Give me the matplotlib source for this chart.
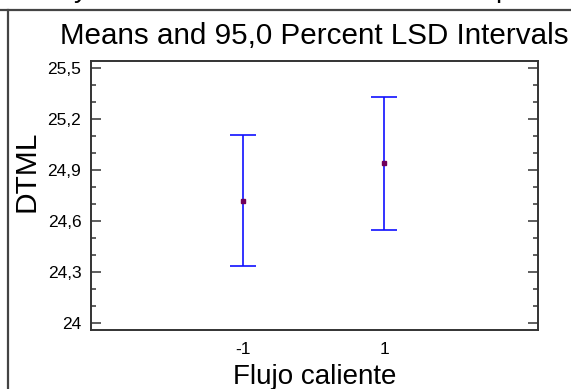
import matplotlib.pyplot as plt
import numpy as np
from matplotlib.lines import Line2D

plt.rcParams["font.family"] = ["Liberation Sans", "DejaVu Sans"]

# data
levels = ["-1", "1"]
means = [24.717, 24.941]
lower = [24.334, 24.546]
upper = [25.105, 25.329]

yticks = [24.0, 24.3, 24.6, 24.9, 25.2, 25.5]
yticklabels = ["24", "24,3", "24,6", "24,9", "25,2", "25,5"]

W, H = 571, 389
fig = plt.figure(figsize=(W / 100, H / 100), dpi=100)
ax = fig.add_axes([91 / W, 1 - 330 / H, (538 - 91) / W, (330 - 61) / H])

xpos = np.arange(len(levels))
err = [np.array(means) - np.array(lower), np.array(upper) - np.array(means)]
ax.errorbar(xpos, means, yerr=err, fmt="none", ecolor="#1010ff", elinewidth=1.2,
            capsize=9.5, capthick=1.2)
ax.plot(xpos, means, "s", color="#70005a", markersize=2.8)

ax.set_xlim(-1.078, 2.092)
ax.set_ylim(23.957, 25.543)
ax.set_xticks(xpos)
ax.set_xticklabels(levels, fontsize=12.5)
ax.set_yticks(yticks)
ax.set_yticklabels(yticklabels, fontsize=12.5)
ax.set_yticks(np.arange(24.1, 25.5, 0.1), minor=True)
ax.tick_params(axis="y", which="major", direction="in", length=7.2, width=1.1,
               color="#333333", right=True, pad=7)
ax.tick_params(axis="y", which="minor", direction="in", length=3.6, width=1.1,
               color="#333333", right=True)
ax.tick_params(axis="x", length=0, pad=9)
for s in ax.spines.values():
    s.set_color("#333333")
    s.set_linewidth(1.4)

ax.set_xlabel("Flujo caliente", fontsize=20, labelpad=5)
ax.set_ylabel("DTML", fontsize=21.5)
ax.yaxis.set_label_coords(-0.114, 0.59)
ax.set_title("Means and 95,0 Percent LSD Intervals", fontsize=21.3, pad=12)

# outer frame, partly cut off
fig.add_artist(Line2D([0, 1], [1 - 10 / H, 1 - 10 / H], color="#444444", lw=1.6))
fig.add_artist(Line2D([8 / W, 8 / W], [0, 1 - 10 / H], color="#444444", lw=1.6))
# descenders of the cut text above
fig.text(81 / W, 1 + 3 / H, "y", fontsize=20, ha="center", va="baseline")
fig.text(503 / W, 1 + 3 / H, "p", fontsize=20, ha="center", va="baseline")

fig.savefig("out.png", dpi=100)
